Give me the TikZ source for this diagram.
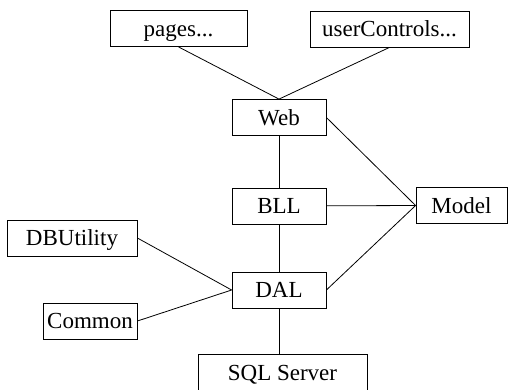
\documentclass[tikz,border=0pt]{standalone}
\usepackage{fontspec}
\setmainfont{Liberation Serif}
\usepackage{tikz}
\usetikzlibrary{calc}

\begin{document}
\begin{tikzpicture}[-, x=1pt, y=-1pt, line width=0.8pt, layer/.style={rectangle, draw, minimum height=36pt, inner sep=0pt, text height=18pt, text depth=3pt, font=\rmfamily\fontsize{23}{26}\selectfont}]
\useasboundingbox (0,0) rectangle (508,389);
\node[layer, minimum width=137pt] (pages) at (178.5,28.5) {pages...};
\node[layer, minimum width=159pt] (controls) at (389.5,29) {userControls...};
\node[layer, minimum width=94pt] (web) at (279,117.5) {Web};
\node[layer, minimum width=94pt] (bll) at (279,206) {BLL};
\node[layer, minimum width=91pt] (model) at (461.5,205.5) {Model};
\node[layer, minimum width=130pt] (dbutil) at (72,238) {DBUtility};
\node[layer, minimum width=94pt] (dal) at (279,290) {DAL};
\node[layer, minimum width=94pt] (common) at (90,321) {Common};
\node[layer, minimum width=169pt] (sql) at (282.5,372.5) {SQL Server};
\path
(pages.south) edge (web.north)
(controls.south) edge (web.north)
(web) edge (bll)
(bll) edge (dal)
(web.east) edge (model.west)
(bll) edge (model.west)
(dal.east) edge (model.west)
(dbutil.east) edge (dal.west)
(common.east) edge (dal.west);
\draw (dal.south) -- (dal.south |- sql.north);
\end{tikzpicture}
\end{document}
